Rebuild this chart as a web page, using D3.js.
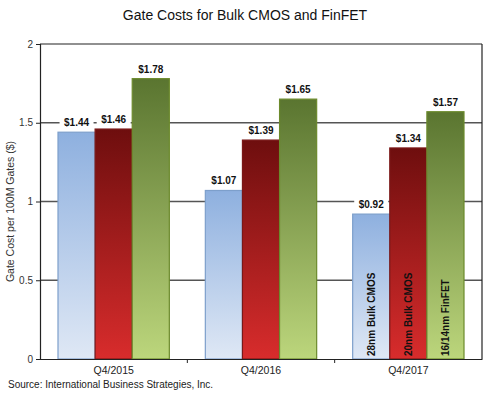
<!DOCTYPE html>
<html><head><meta charset="utf-8">
<script src="https://cdn.jsdelivr.net/npm/d3@7"></script>
<style>body{margin:0;background:#fff;font-family:Arial,"Liberation Sans",sans-serif;}</style>
</head><body><svg id="c" width="500" height="396"></svg>
<script>
const categories = ["Q4/2015", "Q4/2016", "Q4/2017"];
const seriesNames = ["28nm Bulk CMOS", "20nm Bulk CMOS", "16/14nm FinFET"];
const bulk28 = [1.44, 1.07, 0.92];
const bulk20 = [1.46, 1.39, 1.34];
const finfet = [1.78, 1.65, 1.57];
const yTicks = [0, 0.5, 1, 1.5, 2];
const yTickLabels = ["0", "0.5", "1", "1.5", "2"];

const svg = d3.select("#c");
const L = 40, R = 482, T = 44, B = 359;
const x0 = d3.scaleBand().domain(categories).range([L, R]).padding(0);
const x1 = d3.scaleBand().domain(seriesNames).range([18, x0.bandwidth() - 18]).padding(0);
const y = d3.scaleLinear().domain([0, 2]).range([B, T]);

const defs = svg.append("defs");
const grads = [
  {id: "gb", top: "#8eb0df", bot: "#dfe8f5", stroke: "#7d9fcb"},
  {id: "gr", top: "#6e0e0e", bot: "#d82c2c", stroke: "#7a1818"},
  {id: "gg", top: "#5a7530", bot: "#bcd67c", stroke: "#6c8a2c"}
];
grads.forEach(g => {
  const lg = defs.append("linearGradient").attr("id", g.id).attr("x1", 0).attr("y1", 0).attr("x2", 0).attr("y2", 1);
  lg.append("stop").attr("offset", "0%").attr("stop-color", g.top);
  lg.append("stop").attr("offset", "100%").attr("stop-color", g.bot);
});

// title
svg.append("text").attr("x", 245).attr("y", 20).attr("text-anchor", "middle")
  .attr("font-size", 14).attr("fill", "#111").text("Gate Costs for Bulk CMOS and FinFET");

// gridlines
svg.append("g").selectAll("line").data(yTicks.filter(d => d > 0 && d < 2)).join("line")
  .attr("x1", L).attr("x2", R).attr("y1", d => y(d)).attr("y2", d => y(d))
  .attr("stroke", "#555").attr("stroke-width", 1.5);
// frame top and right
svg.append("line").attr("x1", L).attr("x2", R).attr("y1", y(2)).attr("y2", y(2)).attr("stroke", "#222").attr("stroke-width", 1.2);
svg.append("line").attr("x1", R).attr("x2", R).attr("y1", y(2)).attr("y2", B).attr("stroke", "#222").attr("stroke-width", 1.2);

// y axis
const yAxis = d3.axisLeft(y).tickValues(yTicks).tickFormat((d, i) => yTickLabels[i]).tickSize(4).tickPadding(3);
const ya = svg.append("g").attr("transform", `translate(${L},0)`).call(yAxis);
ya.select(".domain").attr("stroke", "#222").attr("stroke-width", 1.2);
ya.selectAll(".tick line").attr("stroke", "#222");
ya.selectAll("text").attr("font-size", 10).attr("fill", "#333").attr("font-family", "Arial");

svg.append("text").attr("transform", `translate(14,${(T + B) / 2 + 10}) rotate(-90)`)
  .attr("text-anchor", "middle").attr("font-size", 10.5).attr("fill", "#333")
  .text("Gate Cost per 100M Gates ($)");

// bars
const seriesVals = [bulk28, bulk20, finfet];
const data = [];
categories.forEach((c, ci) => seriesNames.forEach((s, si) => data.push({c, s, si, ci, v: seriesVals[si][ci]})));

const bars = svg.append("g").selectAll("rect").data(data).join("rect")
  .attr("x", d => x0(d.c) + x1(d.s))
  .attr("y", d => y(d.v))
  .attr("width", x1.bandwidth())
  .attr("height", d => B - y(d.v))
  .attr("fill", d => `url(#${grads[d.si].id})`)
  .attr("stroke", d => grads[d.si].stroke).attr("stroke-width", 1.2);

// x axis
const xAxis = d3.axisBottom(x0).tickSize(0).tickPadding(8);
const xa = svg.append("g").attr("transform", `translate(0,${B})`).call(xAxis);
xa.select(".domain").attr("stroke", "#222").attr("stroke-width", 1.2);
xa.selectAll("text").attr("font-size", 10.5).attr("fill", "#222").attr("font-family", "Arial");
svg.append("g").selectAll("line").data(categories.slice(1)).join("line")
  .attr("x1", d => x0(d)).attr("x2", d => x0(d)).attr("y1", B).attr("y2", B + 4).attr("stroke", "#222");

// value labels with white background
const lbl = svg.append("g").selectAll("g").data(data).join("g")
  .attr("transform", d => `translate(${x0(d.c) + x1(d.s) + x1.bandwidth() / 2},${y(d.v) - 7})`);
lbl.append("rect").attr("x", -17).attr("y", -9).attr("width", 34).attr("height", 13).attr("fill", "#fff");
lbl.append("text").attr("text-anchor", "middle").attr("y", 1).attr("font-size", 10).attr("font-weight", "bold")
  .attr("fill", "#111").text(d => "$" + d.v.toFixed(2));

// series names inside last group bars
const last = categories[categories.length - 1];
svg.append("g").selectAll("text").data(seriesNames).join("text")
  .attr("transform", s => `translate(${x0(last) + x1(s) + x1.bandwidth() / 2 + 4},${B - 3}) rotate(-90)`)
  .attr("font-size", 10).attr("font-weight", "bold").attr("fill", "#111").text(s => s);

// source
svg.append("text").attr("x", 8).attr("y", 388).attr("font-size", 10).attr("fill", "#222")
  .text("Source:  International  Business Strategies, Inc.");
</script></body></html>
